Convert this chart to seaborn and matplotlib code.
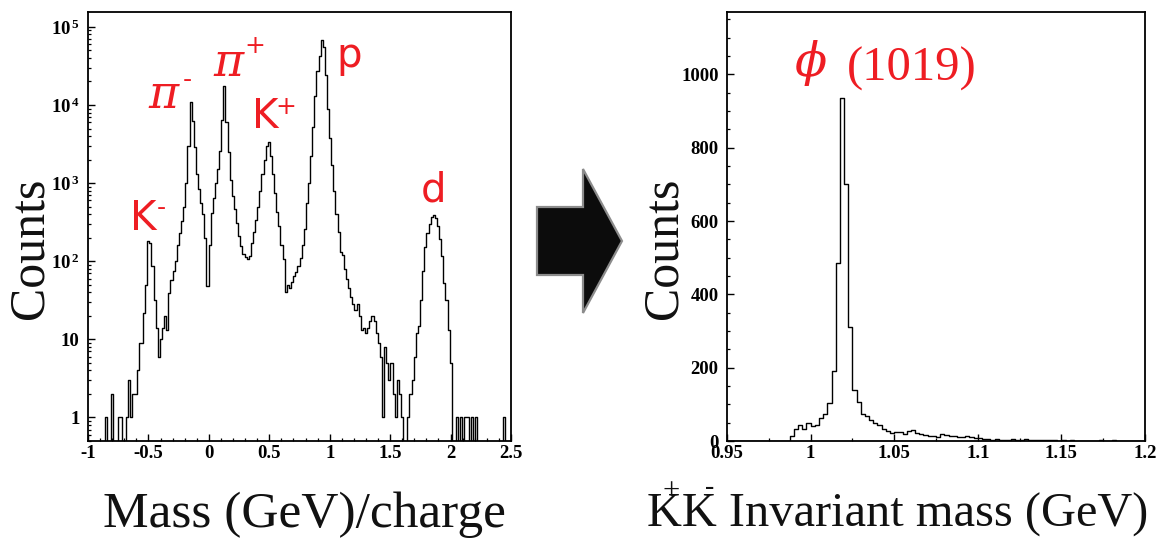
import numpy as np
import pandas as pd
import matplotlib
matplotlib.use("Agg")
import matplotlib.pyplot as plt
import seaborn as sns
from matplotlib.patches import Polygon
from matplotlib.ticker import FixedLocator, MultipleLocator, LogLocator, NullFormatter

# ---------------- data ----------------
# Mass/charge spectrum: 200 bins from -1 to 2.5 GeV (log y)
mq_range = (-1.0, 2.5)
mq_counts = [
    0, 0, 0, 0, 0, 0, 0, 0, 1, 0,
    0, 2, 0, 0, 1, 1, 0, 0, 1, 3,
    1, 2, 2, 4, 9, 9, 22, 50, 180, 170,
    86, 32, 14, 6, 10, 14, 20, 13, 39, 58,
    75, 100, 160, 230, 330, 500, 1000, 3000, 11000, 6200,
    2900, 1300, 850, 560, 400, 200, 48, 160, 420, 650,
    1000, 1500, 2600, 6500, 17500, 6000, 2500, 1100, 680, 460,
    310, 210, 155, 122, 112, 108, 118, 170, 240, 340,
    500, 800, 1300, 2000, 3000, 3400, 2200, 1300, 750, 430,
    280, 160, 108, 40, 50, 46, 55, 65, 72, 86,
    110, 160, 260, 550, 1000, 2200, 5300, 13000, 27000, 42000,
    68000, 55000, 24000, 9000, 3800, 1700, 800, 400, 240, 130,
    120, 80, 60, 45, 35, 28, 24, 28, 20, 13,
    14, 12, 14, 17, 20, 17, 12, 9, 6, 1,
    8, 5, 3, 5, 2, 1, 3, 2, 1, 0,
    0, 1, 2, 3, 6, 12, 15, 32, 75, 150,
    230, 300, 370, 390, 360, 280, 190, 115, 53, 32,
    13, 5, 0, 0, 1, 0, 1, 0, 1, 1,
    0, 1, 0, 1, 0, 0, 0, 0, 0, 0,
    0, 0, 0, 0, 0, 0, 1, 0, 0, 0,
]

# K+K- invariant mass: 100 bins from 0.95 to 1.2 GeV
kk_range = (0.95, 1.2)
kk_counts = [
    0, 0, 0, 0, 0, 0, 0, 0, 0, 0,
    0, 0, 0, 0, 0, 14, 34, 44, 34, 48,
    42, 44, 62, 75, 103, 191, 486, 936, 700, 310,
    139, 107, 75, 68, 56, 50, 44, 34, 26, 23,
    24, 25, 18, 27, 29, 22, 20, 17, 15, 14,
    10, 18, 16, 14, 13, 11, 12, 15, 10, 9,
    8, 6, 6, 4, 5, 4, 3, 4, 5, 3,
    4, 5, 3, 4, 2, 3, 2, 3, 2, 1,
    2, 1, 2, 1, 1, 0, 1, 1, 0, 3,
    1, 0, 2, 0, 0, 0, 0, 0, 0, 0,
]

mq_xticks = [-1, -0.5, 0, 0.5, 1, 1.5, 2, 2.5]
mq_xticklabels = ["-1", "-0.5", "0", "0.5", "1", "1.5", "2", "2.5"]
mq_yticks = [1, 10, 1e2, 1e3, 1e4, 1e5]
mq_yticklabels = ["1", "10", r"$\mathbf{10^{\,2}}$", r"$\mathbf{10^{\,3}}$",
                  r"$\mathbf{10^{\,4}}$", r"$\mathbf{10^{\,5}}$"]
kk_xticks = [0.95, 1.0, 1.05, 1.1, 1.15, 1.2]
kk_xticklabels = ["0.95", "1", "1.05", "1.1", "1.15", "1.2"]
kk_yticks = [0, 200, 400, 600, 800, 1000]
kk_yticklabels = ["0", "200", "400", "600", "800", "1000"]

# ---------------- style ----------------
sns.set_theme(style="ticks")
plt.rcParams["font.family"] = ["Liberation Serif", "DejaVu Serif"]
plt.rcParams["mathtext.fontset"] = "custom"
plt.rcParams["mathtext.rm"] = "Liberation Serif"
plt.rcParams["mathtext.bf"] = "Liberation Serif:bold"
plt.rcParams["mathtext.it"] = "Liberation Serif:italic"
plt.rcParams["axes.unicode_minus"] = False

RED = "#EE1D23"
W, H = 1167, 538


def fx(x):
    return x / W


def fy(y):
    return 1 - y / H


fig = plt.figure(figsize=(W / 100, H / 100), dpi=100)
fig.patch.set_facecolor("white")

ax1 = fig.add_axes([fx(88), fy(441), (511 - 88) / W, (441 - 12) / H])
ax2 = fig.add_axes([fx(727), fy(441), (1145 - 727) / W, (441 - 12) / H])


def hist_frame(lo, hi, counts):
    n = len(counts)
    edges = np.linspace(lo, hi, n + 1)
    centers = 0.5 * (edges[:-1] + edges[1:])
    return pd.DataFrame({"x": centers, "n": counts}), list(edges)


df1, e1 = hist_frame(*mq_range, mq_counts)
df2, e2 = hist_frame(*kk_range, kk_counts)

sns.histplot(data=df1, x="x", weights="n", bins=e1, element="step", fill=False,
             color="black", linewidth=1.0, ax=ax1)
sns.histplot(data=df2, x="x", weights="n", bins=e2, element="step", fill=False,
             color="black", linewidth=1.0, ax=ax2)

# left: log scale counts
ax1.set_yscale("log")
ax1.set_xlim(*mq_range)
ax1.set_ylim(0.5, 1.55e5)
ax1.xaxis.set_major_locator(FixedLocator(mq_xticks))
ax1.set_xticklabels(mq_xticklabels)
ax1.xaxis.set_minor_locator(MultipleLocator(0.1))
ax1.yaxis.set_major_locator(FixedLocator(mq_yticks))
ax1.set_yticklabels(mq_yticklabels)
ax1.yaxis.set_minor_locator(LogLocator(base=10, subs=np.arange(2, 10)))
ax1.yaxis.set_minor_formatter(NullFormatter())

# right: linear counts
ax2.set_xlim(*kk_range)
ax2.set_ylim(0, 1170)
ax2.xaxis.set_major_locator(FixedLocator(kk_xticks))
ax2.set_xticklabels(kk_xticklabels)
ax2.xaxis.set_minor_locator(MultipleLocator(0.025))
ax2.yaxis.set_major_locator(FixedLocator(kk_yticks))
ax2.set_yticklabels(kk_yticklabels)
ax2.yaxis.set_minor_locator(MultipleLocator(50))

for ax in (ax1, ax2):
    ax.set_xlabel("")
    ax.set_ylabel("")
    for s in ax.spines.values():
        s.set_visible(True)
        s.set_linewidth(1.3)
        s.set_color("black")
    ax.tick_params(which="major", direction="in", length=5, width=1.0,
                   top=False, right=False, colors="black")
    ax.tick_params(which="minor", direction="in", length=2.5, width=0.9,
                   top=False, right=False, colors="black")
    ax.tick_params(axis="x", which="major", pad=3)
    ax.tick_params(axis="y", which="major", pad=6)
    for lab in ax.get_xticklabels() + ax.get_yticklabels():
        lab.set_fontweight("bold")
        lab.set_fontsize(13.5)
        lab.set_fontfamily("Liberation Serif")
    ax.set_facecolor("white")
    ax.grid(False)

# ---------------- axis titles ----------------
title_kw = dict(family="Liberation Serif", color="#111111")
fig.text(fx(30), fy(248), "Counts", rotation=90, ha="center", va="center",
         fontsize=36, **title_kw)
fig.text(fx(664), fy(248), "Counts", rotation=90, ha="center", va="center",
         fontsize=36, **title_kw)
fig.text(fx(304), fy(527), "Mass (GeV)/charge", ha="center", va="baseline",
         fontsize=37, **title_kw)
kk_size = 34.8
kk_title = fig.text(fx(898), fy(527), "KK Invariant mass (GeV)", ha="center",
                    va="baseline", fontsize=kk_size, **title_kw)

# charge signs written over the two K letters
fig.canvas.draw()
bb = kk_title.get_window_extent(fig.canvas.get_renderer())
em = kk_size * 100 / 72
k1 = bb.x0 + 0.49 * em
k2 = bb.x0 + 1.28 * em
fig.text(k1 / W, fy(499), "+", ha="center", va="baseline", fontsize=22,
         family="Liberation Serif", color="#111111")
fig.text(k2 / W, fy(494), "-", ha="center", va="baseline", fontsize=20,
         family="Liberation Serif", color="#111111")

# ---------------- particle labels ----------------
sans = dict(family="DejaVu Sans", color=RED)
greek = dict(family=["DejaVu Serif", "Liberation Serif"], style="italic", color=RED)

fig.text(fx(130), fy(230), "K", fontsize=29, ha="left", va="baseline", **sans)
fig.text(fx(161), fy(215), "-", fontsize=18, ha="center", va="baseline", **sans)

fig.text(fx(148), fy(108), "π", fontsize=33, ha="left", va="baseline", **greek)
fig.text(fx(187), fy(87), "-", fontsize=18, ha="center", va="baseline", **sans)

fig.text(fx(213), fy(76), "π", fontsize=33, ha="left", va="baseline", **greek)
fig.text(fx(255), fy(53), "+", fontsize=18, ha="center", va="baseline", **sans)

fig.text(fx(252), fy(128), "K", fontsize=29, ha="left", va="baseline", **sans)
fig.text(fx(286), fy(114), "+", fontsize=18, ha="center", va="baseline", **sans)

fig.text(fx(336), fy(67), "p", fontsize=29, ha="left", va="baseline", **sans)
fig.text(fx(421), fy(202), "d", fontsize=29, ha="left", va="baseline", **sans)

fig.text(fx(795), fy(76), "ϕ", fontsize=34, ha="left", va="baseline", **greek)
fig.text(fx(847), fy(81), "(1019)", fontsize=35, ha="left", va="baseline",
         family="Liberation Serif", color=RED)

# ---------------- block arrow between panels ----------------
arrow_px = [(537, 207), (583, 207), (583, 169), (622, 241),
            (583, 313), (583, 275), (537, 275)]
arrow = Polygon([(fx(x), fy(y)) for x, y in arrow_px], closed=True,
                transform=fig.transFigure, facecolor="#0c0c0c",
                edgecolor="#8c8c8c", linewidth=1.6, joinstyle="miter")
fig.add_artist(arrow)

fig.savefig("out.png", dpi=100, facecolor="white")
